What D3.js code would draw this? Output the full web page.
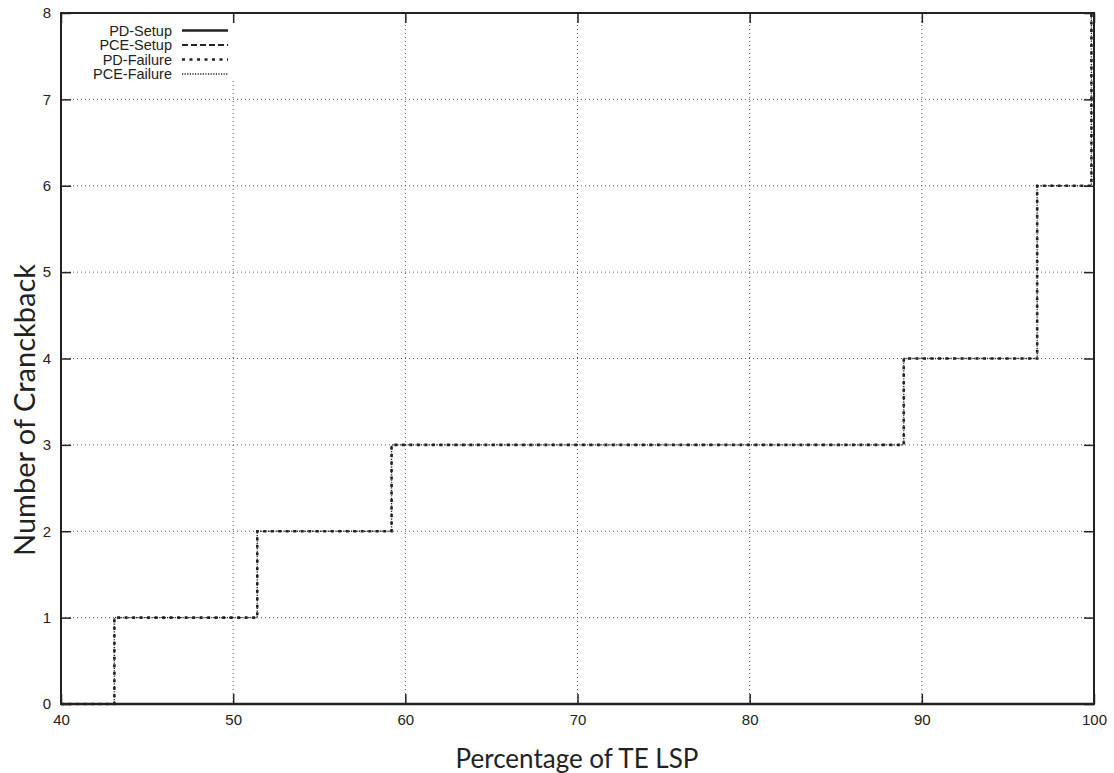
<!DOCTYPE html>
<html>
<head>
<meta charset="utf-8">
<script src="https://cdn.jsdelivr.net/npm/d3@7"></script>
<style>
  html, body { margin: 0; padding: 0; background: #fff; }
  svg { display: block; }
  .tick-label { font-family: "Liberation Sans", Arial, sans-serif; font-size: 15px; fill: #222; }
  .axis-title { font-family: Lato, "Open Sans", sans-serif; font-size: 26px; fill: #222; }
  .legend-text { font-family: "Liberation Sans", Arial, sans-serif; font-size: 14.5px; fill: #222; }
</style>
</head>
<body>
<svg id="chart" width="1114" height="773"></svg>
<script>
// Tick values
const xTicks = [40, 50, 60, 70, 80, 90, 100];
const yTicks = [0, 1, 2, 3, 4, 5, 6, 7, 8];

// Series: percentage of TE LSP vs. number of crankbacks (step data)
const pdSetupX = [40, 100];
const pdSetupY = [0, 0];
const pceSetupX = [40, 100];
const pceSetupY = [0, 0];
const pdFailureX = [40, 43.1, 51.4, 59.2, 88.95, 96.7, 99.85, 100];
const pdFailureY = [0, 1, 2, 3, 4, 6, 8, 8];
const pceFailureX = [40, 43.1, 51.4, 59.2, 88.95, 96.7, 99.85, 100];
const pceFailureY = [0, 1, 2, 3, 4, 6, 8, 8];

const seriesNames = ["PD-Setup", "PCE-Setup", "PD-Failure", "PCE-Failure"];

const svg = d3.select("#chart");
const pL = 61, pR = 1094, pT = 13, pB = 704;

const x = d3.scaleLinear().domain([40, 100]).range([pL, pR]);
const y = d3.scaleLinear().domain([0, 8]).range([pB, pT]);

// Grid lines
const grid = svg.append("g");
grid.selectAll("line.gx").data(xTicks.slice(1, -1)).join("line")
  .attr("x1", d => x(d)).attr("x2", d => x(d))
  .attr("y1", pT).attr("y2", pB)
  .attr("stroke", "#555").attr("stroke-width", 1).attr("stroke-dasharray", "1,3");
grid.selectAll("line.gy").data(yTicks.slice(1, -1)).join("line")
  .attr("x1", pL).attr("x2", pR)
  .attr("y1", d => y(d)).attr("y2", d => y(d))
  .attr("stroke", "#555").attr("stroke-width", 1).attr("stroke-dasharray", "1,3");

// Legend background (opaque, hides the grid beneath it)
svg.append("rect").attr("x", pL).attr("y", pT).attr("width", 176).attr("height", 68).attr("fill", "#fff");

// Axes with inward ticks, mirrored on top and right
const axB = d3.axisBottom(x).tickValues(xTicks).tickSize(-10).tickFormat(d3.format("d"));
const axT = d3.axisTop(x).tickValues(xTicks).tickSize(-10).tickFormat("");
const axL = d3.axisLeft(y).tickValues(yTicks).tickSize(-10).tickFormat(d3.format("d"));
const axR = d3.axisRight(y).tickValues(yTicks).tickSize(-10).tickFormat("");

function styleAxis(g) {
  g.select(".domain").remove();
  g.selectAll(".tick line").attr("stroke", "#222").attr("stroke-width", 1.5);
  g.selectAll(".tick text").attr("class", "tick-label").attr("fill", "#222");
}
svg.append("g").attr("transform", `translate(0,${pB})`).call(axB).call(styleAxis)
  .selectAll(".tick text").attr("y", 10).attr("dy", "0.71em");
svg.append("g").attr("transform", `translate(0,${pT})`).call(axT).call(styleAxis);
svg.append("g").attr("transform", `translate(${pL},0)`).call(axL).call(styleAxis)
  .selectAll(".tick text").attr("x", -10);
svg.append("g").attr("transform", `translate(${pR},0)`).call(axR).call(styleAxis);

// Frame
svg.append("rect").attr("x", pL).attr("y", pT).attr("width", pR - pL).attr("height", pB - pT)
  .attr("fill", "none").attr("stroke", "#222").attr("stroke-width", 2);

// Series
const stepLine = d3.line().x(d => x(d[0])).y(d => y(d[1])).curve(d3.curveStepAfter);
const styles = [
  { dash: null, width: 2.5 },
  { dash: "6,3", width: 2 },
  { dash: "3,4.5", width: 2.6 },
  { dash: "1.2,1.4", width: 1.4 }
];
const seriesData = [
  d3.zip(pdSetupX, pdSetupY),
  d3.zip(pceSetupX, pceSetupY),
  d3.zip(pdFailureX, pdFailureY),
  d3.zip(pceFailureX, pceFailureY)
];
seriesData.forEach((pts, i) => {
  svg.append("path").attr("d", stepLine(pts))
    .attr("fill", "none").attr("stroke", "#222")
    .attr("stroke-width", styles[i].width)
    .attr("stroke-dasharray", styles[i].dash);
});

// Legend
const lg = svg.append("g");
seriesNames.forEach((name, i) => {
  const yy = 30.5 + i * 14.5;
  lg.append("text").attr("class", "legend-text").attr("x", 172).attr("y", yy + 5)
    .attr("text-anchor", "end").text(name);
  lg.append("line").attr("x1", 182).attr("x2", 228).attr("y1", yy).attr("y2", yy)
    .attr("stroke", "#222").attr("stroke-width", styles[i].width)
    .attr("stroke-dasharray", styles[i].dash);
});

// Axis titles
svg.append("text").attr("class", "axis-title").attr("x", 577).attr("y", 768)
  .attr("text-anchor", "middle").text("Percentage of TE LSP");
svg.append("text").attr("class", "axis-title").style("font-size", "29px")
  .attr("transform", "translate(35,410) rotate(-90)")
  .attr("text-anchor", "middle").text("Number of Cranckback");
</script>
</body>
</html>
